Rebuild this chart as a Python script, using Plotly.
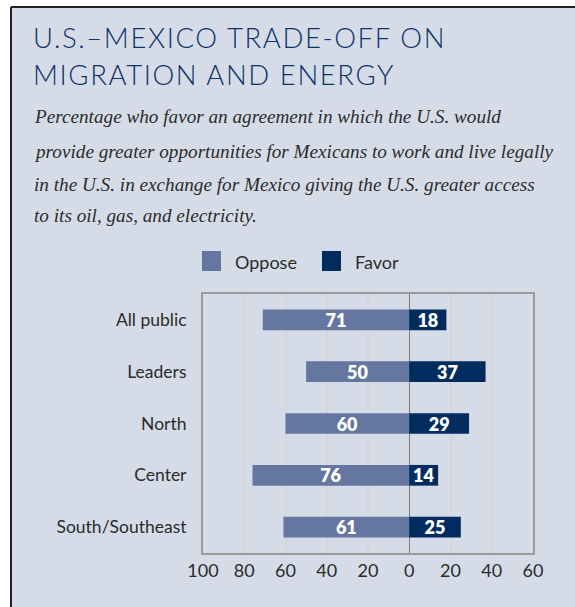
import plotly.graph_objects as go

# Survey results (percent)
categories = ["All public", "Leaders", "North", "Center", "South/Southeast"]
oppose = [71, 50, 60, 76, 61]
favor = [18, 37, 29, 14, 25]
tick_vals = [-100, -80, -60, -40, -20, 0, 20, 40, 60]
tick_text = ["100", "80", "60", "40", "20", "0", "20", "40", "60"]

title_lines = ["U.S.\u2013MEXICO TRADE-OFF ON", "MIGRATION AND ENERGY"]
subtitle_lines = [
    "Percentage who favor an agreement in which the U.S. would",
    "provide greater opportunities for Mexicans to work and live legally",
    "in the U.S. in exchange for Mexico giving the U.S. greater access",
    "to its oil, gas, and electricity.",
]

W, H = 575, 607
L, R, T, B = 203, 42, 294, 54
PW, PH = W - L - R, H - T - B

BG = "#d5dce8"
OPPOSE_C = "#6577a1"
FAVOR_C = "#022b5f"
TITLE_C = "#0f3268"
TEXT_C = "#2b2b2b"


def px_x(p):
    return (p - L) / PW


def px_y(p):
    return (H - B - p) / PH


label_font = dict(family="Lato", size=18, color="white", weight=800)

fig = go.Figure()
fig.add_trace(go.Bar(
    y=categories, x=[-v for v in oppose], orientation="h", name="Oppose",
    marker=dict(color=OPPOSE_C, line=dict(width=0)),
    text=[str(v) for v in oppose], textposition="inside", insidetextanchor="middle",
    textangle=0, constraintext="none", textfont=label_font, hoverinfo="skip",
))
fig.add_trace(go.Bar(
    y=categories, x=favor, orientation="h", name="Favor",
    marker=dict(color=FAVOR_C, line=dict(width=0)),
    text=[str(v) for v in favor], textposition="inside", insidetextanchor="middle",
    textangle=0, constraintext="none", textfont=label_font, hoverinfo="skip",
))

shapes = [
    # panel background with a dark rule on top and left
    dict(type="rect", xref="paper", yref="paper", layer="below",
         x0=px_x(11), x1=px_x(W + 10), y0=px_y(H + 10), y1=px_y(7),
         fillcolor=BG, line=dict(width=0)),
    dict(type="line", xref="paper", yref="paper", layer="below",
         x0=px_x(11), x1=px_x(W + 10), y0=px_y(7), y1=px_y(7),
         line=dict(color="#222222", width=2)),
    dict(type="line", xref="paper", yref="paper", layer="below",
         x0=px_x(11), x1=px_x(11), y0=px_y(7), y1=px_y(H + 10),
         line=dict(color="#222222", width=2)),
    # legend swatches
    dict(type="rect", xref="paper", yref="paper",
         x0=px_x(202), x1=px_x(221), y0=px_y(271), y1=px_y(251),
         fillcolor=OPPOSE_C, line=dict(width=0)),
    dict(type="rect", xref="paper", yref="paper",
         x0=px_x(322), x1=px_x(341), y0=px_y(271), y1=px_y(251),
         fillcolor=FAVOR_C, line=dict(width=0)),
]

annotations = [
    dict(text="Oppose", x=px_x(233), y=px_y(262), xref="paper", yref="paper",
         xanchor="left", yanchor="middle", showarrow=False,
         font=dict(family="Lato", size=18, color=TEXT_C)),
    dict(text="Favor", x=px_x(353), y=px_y(262), xref="paper", yref="paper",
         xanchor="left", yanchor="middle", showarrow=False,
         font=dict(family="Lato", size=18, color=TEXT_C)),
]
for line, cy in zip(title_lines, [37, 75]):
    annotations.append(dict(
        text=line, x=px_x(31), y=px_y(cy), xref="paper", yref="paper",
        xanchor="left", yanchor="middle", showarrow=False,
        font=dict(family="Lato", size=27.5, color=TITLE_C, weight=300)))
for line, cy in zip(subtitle_lines, [116, 151, 184, 215]):
    annotations.append(dict(
        text=line, x=px_x(32), y=px_y(cy), xref="paper", yref="paper",
        xanchor="left", yanchor="middle", showarrow=False,
        font=dict(family="Liberation Serif", size=19.2, color=TEXT_C, style="italic")))

fig.update_layout(
    width=W, height=H,
    margin=dict(l=L, r=R, t=T, b=B, pad=0),
    paper_bgcolor="white",
    plot_bgcolor="white",
    barmode="relative",
    bargap=0.6,
    showlegend=False,
    shapes=shapes,
    annotations=annotations,
)
fig.update_xaxes(
    range=[-100, 60], tickvals=tick_vals, ticktext=tick_text,
    showgrid=True, gridcolor="#d6d6d6", gridwidth=1.5,
    zeroline=True, zerolinecolor="#7a7a7a", zerolinewidth=1.2,
    showline=True, linecolor="#9a9a9a", linewidth=2, mirror=True,
    ticks="", tickfont=dict(family="Lato", size=18, color=TEXT_C),
    fixedrange=True,
)
fig.update_yaxes(
    autorange="reversed",
    showline=True, linecolor="#9a9a9a", linewidth=2, mirror=True,
    ticks="", ticklabelstandoff=11,
    tickfont=dict(family="Lato", size=17.5, color=TEXT_C),
    fixedrange=True,
)

# open up the tracking of the two heading lines, keeping their left edge fixed
heading_js = """
var gd = document.getElementById('{plot_id}');
gd.querySelectorAll('text.annotation-text').forEach(function (t) {
  var s = t.textContent;
  if (s.indexOf('MEXICO') >= 0 || s.indexOf('MIGRATION') >= 0) {
    var before = t.getBBox().x;
    t.setAttribute('letter-spacing', '1.6px');
    var after = t.getBBox().x;
    t.setAttribute('x', parseFloat(t.getAttribute('x') || 0) + (before - after));
  }
});
"""

fig.write_html("out.html", config=dict(displayModeBar=False), post_script=heading_js)
